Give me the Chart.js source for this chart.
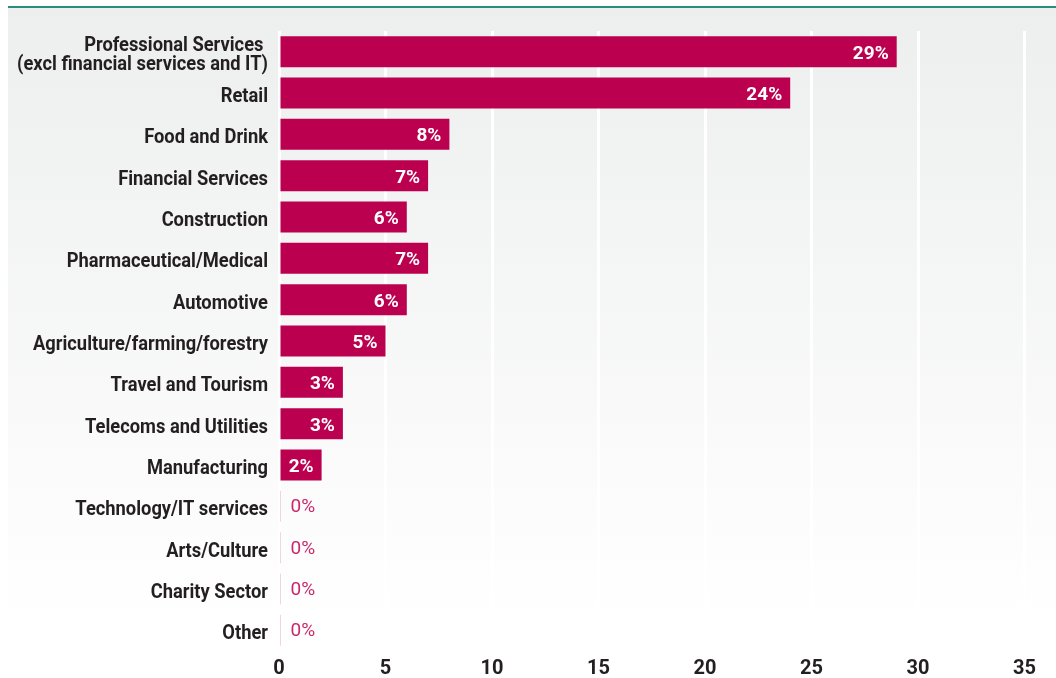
<!DOCTYPE html>
<html>
<head>
<meta charset="utf-8">
<script src="https://cdn.jsdelivr.net/npm/chart.js@4/dist/chart.umd.min.js"></script>
<style>
  html, body { margin: 0; padding: 0; background: #ffffff; }
  #wrap { width: 1056px; height: 678px; position: relative; }
</style>
</head>
<body>
<div id="wrap"><canvas id="chart" width="1056" height="678"></canvas></div>
<script>
// Sectors, in display order
const sectors = [
  ['Professional Services ', '(excl financial services and IT)'],
  'Retail',
  'Food and Drink',
  'Financial Services',
  'Construction',
  'Pharmaceutical/Medical',
  'Automotive',
  'Agriculture/farming/forestry',
  'Travel and Tourism',
  'Telecoms and Utilities',
  'Manufacturing',
  'Technology/IT services',
  'Arts/Culture',
  'Charity Sector',
  'Other'
];
// Share of respondents per sector (%)
const shares = [29, 24, 8, 7, 6, 7, 6, 5, 3, 3, 2, 0, 0, 0, 0];
// Value axis ticks
const axisTicks = [0, 5, 10, 15, 20, 25, 30, 35];

const BAR = '#BC0050';
const ZERO_BAR = 'rgba(188,0,80,0.35)';
const ZERO_TEXT = '#C9286B';
const INK = '#231F20';
const FONT = 'Roboto, "Noto Sans", sans-serif';

// Category labels use a narrowed bold face
const CAT_FONT = 'bold 20px ' + FONT;
const CAT_WIDTH = 235;            // rendered width of the widest single-line label
const CAT_REF = 'Agriculture/farming/forestry';
const CAT_LINE = 19;

// Panel background with a top rule
const panelBackground = {
  id: 'panelBackground',
  beforeDraw(chart) {
    const ctx = chart.ctx;
    ctx.save();
    const g = ctx.createLinearGradient(0, 8, 0, 620);
    g.addColorStop(0, '#EDEEEE');
    g.addColorStop(1, '#FFFFFF');
    ctx.fillStyle = g;
    ctx.fillRect(8, 8, chart.width - 8, chart.height - 8);
    ctx.fillStyle = '#2A8C7C';
    ctx.fillRect(8, 6, chart.width - 8, 2);
    ctx.restore();
  }
};

// Sector names beside the category axis
const sectorLabels = {
  id: 'sectorLabels',
  afterDraw(chart) {
    const ctx = chart.ctx;
    const yScale = chart.scales.y;
    const right = chart.chartArea.left - 11;
    ctx.save();
    ctx.font = CAT_FONT;
    const sx = CAT_WIDTH / ctx.measureText(CAT_REF).width;
    ctx.fillStyle = INK;
    ctx.textAlign = 'right';
    ctx.textBaseline = 'alphabetic';
    chart.data.labels.forEach((label, i) => {
      const lines = Array.isArray(label) ? label : [label];
      const cy = yScale.getPixelForTick(i);
      lines.forEach((line, j) => {
        const off = (j - (lines.length - 1) / 2) * CAT_LINE;
        ctx.save();
        ctx.translate(right, cy + off + 9);
        ctx.scale(sx, 1);
        ctx.fillText(line, 0, 0);
        ctx.restore();
      });
    });
    ctx.restore();
  }
};

// Percentage labels on each bar
const barValueLabels = {
  id: 'barValueLabels',
  afterDatasetsDraw(chart) {
    const ctx = chart.ctx;
    const meta = chart.getDatasetMeta(0);
    const values = chart.data.datasets[0].data;
    ctx.save();
    ctx.textBaseline = 'alphabetic';
    meta.data.forEach((bar, i) => {
      const v = values[i];
      const text = v + '%';
      if (v > 0) {
        ctx.font = 'bold 19px ' + FONT;
        ctx.fillStyle = '#FFFFFF';
        ctx.textAlign = 'right';
        ctx.fillText(text, bar.x - 8, bar.y + 7);
      } else {
        ctx.font = '19px ' + FONT;
        ctx.fillStyle = ZERO_TEXT;
        ctx.textAlign = 'left';
        ctx.fillText(text, bar.base + 10, bar.y + 6);
      }
    });
    ctx.restore();
  }
};

new Chart(document.getElementById('chart'), {
  type: 'bar',
  data: {
    labels: sectors,
    datasets: [{
      data: shares,
      backgroundColor: shares.map(v => v > 0 ? BAR : ZERO_BAR),
      borderWidth: 0,
      minBarLength: 1,
      barPercentage: 0.75,
      categoryPercentage: 1.0
    }]
  },
  options: {
    indexAxis: 'y',
    responsive: false,
    animation: false,
    layout: { padding: { top: 31, right: 31.5, bottom: 0, left: 0 } },
    plugins: {
      legend: { display: false },
      tooltip: { enabled: false }
    },
    scales: {
      x: {
        min: 0,
        max: 35,
        afterBuildTicks(scale) { scale.ticks = axisTicks.map(v => ({ value: v })); },
        afterFit(scale) { scale.height = 27; },
        grid: { color: '#FFFFFF', lineWidth: 3, drawTicks: false },
        border: { display: false },
        ticks: {
          padding: 6,
          color: INK,
          font: { family: FONT, size: 20, weight: 'bold' }
        }
      },
      y: {
        afterFit(scale) { scale.width = 279; },
        grid: { display: false, drawTicks: false },
        border: { display: false },
        ticks: { display: false }
      }
    }
  },
  plugins: [panelBackground, barValueLabels, sectorLabels]
});
</script>
</body>
</html>
